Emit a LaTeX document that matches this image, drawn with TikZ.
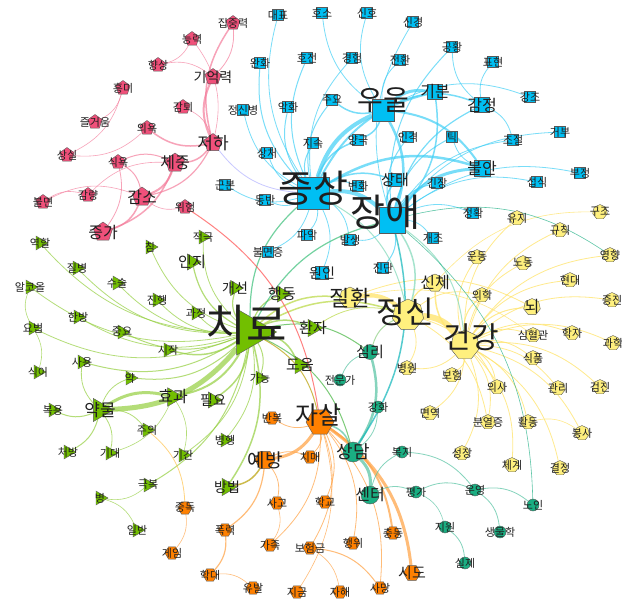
\documentclass[tikz,border=0pt]{standalone}
\usepackage{fontspec}
\setmainfont{Noto Sans CJK KR}
\usetikzlibrary{shapes.geometric}
\definecolor{kpink}{HTML}{F0507A}
\definecolor{kblue}{HTML}{00BFF3}
\definecolor{kgreen}{HTML}{72BF00}
\definecolor{korange}{HTML}{FF8000}
\definecolor{kteal}{HTML}{1AAE82}
\definecolor{kyellow}{HTML}{FFF07E}
\pgfdeclarelayer{bg}
\pgfdeclarelayer{fg}
\pgfsetlayers{bg,main,fg}
\newcommand{\nlab}[3][11]{\begin{pgfonlayer}{fg}\node[font=\fontsize{#1}{#1}\selectfont, text=black!88] at (#2) {#3};\end{pgfonlayer}}

\begin{document}
\begin{tikzpicture}[x=1pt, y=-1pt,
  every node/.style={inner sep=0pt, outer sep=0pt},
  nd/.style={draw=black!65, line width=0.4pt},
  pk/.style={nd, regular polygon, regular polygon sides=5, fill=kpink, minimum size=#1}, pk/.default=15pt,
  bl/.style={nd, rectangle, fill=kblue, minimum size=#1}, bl/.default=11pt,
  gr/.style={nd, isosceles triangle, isosceles triangle apex angle=60, fill=kgreen, minimum height=#1, minimum width=#1}, gr/.default=12pt,
  or/.style={nd, regular polygon, regular polygon sides=6, fill=korange, minimum size=#1}, or/.default=14pt,
  tl/.style={nd, circle, fill=kteal, minimum size=#1}, tl/.default=12pt,
  yl/.style={nd, regular polygon, regular polygon sides=7, fill=kyellow, minimum size=#1}, yl/.default=15pt,
  ed/.style={opacity=0.7},
  epk/.style={ed, draw=kpink!75},
  ebl/.style={ed, draw=kblue!75},
  egr/.style={ed, draw=kgreen!75},
  eor/.style={ed, draw=korange!75},
  etl/.style={ed, draw=kteal!75},
  eyl/.style={ed, draw=kyellow!90!orange, opacity=0.8}]
  \useasboundingbox (0,0) rectangle (622,602);
  \begin{pgfonlayer}{bg}
    \fill[white] (0,0) rectangle (622,602);
  \end{pgfonlayer}

  % pink cluster
  \foreach \nm/\x/\y in {집중력/233/23, 능력/192/39, 향상/158/65, 흥미/123/88, 감퇴/183/107, 즐거움/95/122, 의욕/147/128, 상실/67/155, 식욕/118/162, 감량/88/195, 불면/43/202, 위험/185/207}
    {\node[pk] (\nm) at (\x,\y) {}; \nlab{\nm}{\nm}}
  \foreach \nm/\x/\y/\sz/\fs in {기억력/213/77/17/14, 저하/213/143/19/17, 체중/175/163/20/16, 감소/142/197/20/16, 증가/103/232/20/16}
    {\node[pk=\sz pt] (\nm) at (\x,\y) {}; \nlab[\fs]{\nm}{\nm}}

  % blue cluster
  \foreach \nm/\x/\y in {대표/278/15, 호소/322/13, 신호/367/13, 신경/413/22, 공황/452/47, 표현/493/62, 완화/260/63, 호전/307/58, 경험/352/58, 전환/400/60, 강조/530/97, 정신병/243/110, 악화/288/107, 주요/332/100, 지속/313/143, 양극/358/140, 인격/408/137, 틱/452/137, 조절/513/140, 거부/560/132, 상처/267/153, 섭식/537/182, 부정/580/173, 근본/225/185, 변화/358/186, 긴장/437/183, 동반/265/200, 정확/473/213, 개조/433/238, 파악/307/235, 발생/350/240, 불면증/268/252, 진단/383/268}
    {\node[bl] (\nm) at (\x,\y) {}; \nlab{\nm}{\nm}}
  \foreach \nm/\x/\y/\sz/\fs in {기분/435/92/15/16, 감정/482/105/15/16, 불안/482/168/16/16, 상태/395/180/13/15, 원인/322/273/13/14}
    {\node[bl=\sz pt] (\nm) at (\x,\y) {}; \nlab[\fs]{\nm}{\nm}}
  \node[bl=22pt] (우울) at (383,110) {};
  \node[bl=32pt] (증상) at (313,193) {};
  \node[bl=26pt] (장애) at (392,220) {};
  \nlab[28]{383,100}{우울}
  \nlab[38]{313,188}{증상}
  \nlab[38]{385,212}{장애}

  % green cluster
  \foreach \nm/\x/\y in {역할/40/243, 침/150/247, 적극/203/237, 질병/77/268, 알코올/30/287, 수술/117/283, 진행/157/300, 과정/196/313, 한방/78/317, 요법/33/328, 중요/122/332, 시작/168/350, 사용/82/362, 식이/38/372, 약/130/378, 가능/260/378, 복용/53/410, 주의/147/430, 병행/225/440, 처방/68/452, 기대/110/453, 기간/183/455, 극복/148/485, 병/100/498, 일반/137/530}
    {\node[gr] (\nm) at (\x,\y) {}; \nlab{\nm}{\nm}}
  \foreach \nm/\x/\y/\sz/\fs in {인지/192/262/14/15, 개선/235/288/13/14, 행동/282/294/14/15, 환자/313/328/15/15, 도움/300/365/15/15, 효과/173/397/16/16, 필요/213/400/14/14, 방법/227/487/15/14, 약물/100/410/20/17}
    {\node[gr=\sz pt] (\nm) at (\x,\y) {}; \nlab[\fs]{\nm}{\nm}}
  \node[gr=40pt] (치료) at (250,332) {};
  \nlab[44]{246,325}{치료}

  % orange cluster
  \foreach \nm/\x/\y in {반복/272/418, 치매/310/457, 사고/277/503, 학교/325/502, 폭력/225/530, 충동/393/533, 가족/270/545, 보험금/310/548, 행위/353/543, 중독/185/508, 게임/172/553, 학대/210/575, 유발/253/588, 지금/297/592, 자해/340/592, 사망/380/588}
    {\node[or] (\nm) at (\x,\y) {}; \nlab{\nm}{\nm}}
  \foreach \nm/\x/\y/\sz/\fs in {시도/412/573/17/15, 예방/265/460/20/19}
    {\node[or=\sz pt] (\nm) at (\x,\y) {}; \nlab[\fs]{\nm}{\nm}}
  \node[or=28pt] (자살) at (320,422) {};
  \nlab[25]{318,415}{자살}

  % teal cluster
  \foreach \nm/\x/\y in {강화/378/407, 복지/402/452, 평가/416/492, 운영/475/490, 노인/533/505, 지원/445/527, 생물학/500/532, 실제/465/563, 전문가/340/380}
    {\node[tl] (\nm) at (\x,\y) {}; \nlab{\nm}{\nm}}
  \foreach \nm/\x/\y/\sz/\fs in {심리/370/352/15/15, 상담/353/452/20/18, 센터/370/495/18/16}
    {\node[tl=\sz pt] (\nm) at (\x,\y) {}; \nlab[\fs]{\nm}{\nm}}

  % yellow cluster
  \foreach \nm/\x/\y in {구조/600/212, 유지/517/218, 규칙/560/230, 영향/610/255, 운동/477/257, 노동/523/263, 현대/570/280, 의학/482/295, 증진/612/300, 심혈관/533/335, 학자/572/333, 과학/613/343, 식품/533/358, 병원/407/368, 보험/452/375, 의사/497/387, 관리/558/388, 검진/600/387, 면역/430/413, 분열증/488/422, 활동/528/422, 봉사/582/433, 성장/462/453, 체계/512/465, 결정/560/468}
    {\node[yl] (\nm) at (\x,\y) {}; \nlab{\nm}{\nm}}
  \foreach \nm/\x/\y/\sz/\fs in {신체/435/283/18/16, 뇌/532/307/17/16, 질환/350/298/22/22}
    {\node[yl=\sz pt] (\nm) at (\x,\y) {}; \nlab[\fs]{\nm}{\nm}}
  \node[yl=32pt] (정신) at (408,315) {};
  \node[yl=30pt] (건강) at (465,345) {};
  \nlab[31]{405,312}{정신}
  \nlab[30]{471,337}{건강}

  % edges
  \begin{pgfonlayer}{bg}
  \foreach \a/\b/\w in {저하/집중력/1.5, 저하/기억력/2, 집중력/기억력/0.8, 저하/의욕/1.5, 저하/체중/1.5, 저하/감소/1.2, 능력/저하/0.6, 능력/향상/0.6, 향상/기억력/0.6, 감퇴/저하/0.6, 흥미/즐거움/0.6, 흥미/상실/0.6, 의욕/상실/0.6, 식욕/체중/1, 식욕/감소/1, 식욕/증가/0.8, 체중/감소/2, 체중/증가/1.5, 감소/증가/1.5, 감량/체중/0.6, 불면/감량/0.6, 불면/감소/0.6, 위험/감소/0.6}
    \draw[epk, line width=\w pt] (\a) to[bend left=24] (\b);
  \foreach \a/\b/\w in {증상/우울/4, 증상/장애/4, 증상/대표/0.8, 증상/완화/1, 증상/호전/1, 증상/정신병/0.8, 증상/악화/1, 증상/주요/1, 증상/지속/1, 증상/상처/0.8, 증상/근본/0.8, 증상/동반/0.8, 증상/양극/1.5, 증상/변화/1, 증상/상태/1.5, 증상/경험/0.8, 증상/기분/2, 증상/불안/2.5, 증상/파악/0.8, 증상/발생/0.8, 증상/불면증/0.8, 증상/원인/0.8, 우울/호소/0.8, 우울/신호/0.8, 우울/전환/0.8, 우울/기분/3, 우울/감정/1.5, 우울/주요/1.5, 우울/양극/1.5, 우울/장애/2.5, 우울/불안/2, 우울/강조/0.8, 장애/신경/0.8, 장애/공황/1, 장애/인격/1, 장애/틱/1, 장애/불안/3, 장애/상태/1.5, 장애/감정/1.2, 장애/조절/0.8, 장애/거부/0.8, 장애/섭식/0.8, 장애/부정/0.8, 장애/긴장/1, 장애/정확/0.8, 장애/개조/0.8, 장애/진단/1, 장애/발생/0.8, 감정/표현/0.8, 감정/공황/0.8, 감정/조절/0.8, 불안/틱/0.8, 기분/장애/1.5}
    \draw[ebl, line width=\w pt] (\a) to[bend left=24] (\b);
  \foreach \a/\b/\w in {치료/약물/5, 약물/효과/3, 치료/효과/2, 치료/역할/0.8, 치료/침/0.8, 치료/적극/0.8, 치료/질병/0.8, 치료/인지/1.2, 치료/알코올/0.8, 치료/수술/0.8, 치료/진행/0.8, 치료/과정/0.8, 치료/개선/1.2, 치료/행동/1.2, 치료/한방/0.8, 치료/요법/0.8, 치료/중요/1, 치료/환자/1.5, 치료/시작/1.5, 치료/사용/1, 치료/약/1, 치료/도움/1.5, 치료/가능/1, 치료/필요/1.5, 치료/병행/0.8, 치료/방법/1.5, 치료/기간/0.8, 치료/극복/1, 약물/복용/1, 약물/처방/1, 약물/사용/0.8, 약물/약/0.8, 약물/주의/0.8, 약물/기대/0.8, 요법/식이/0.6, 극복/병/0.6, 병/일반/0.6, 효과/기대/0.6, 효과/기간/0.6, 요법/알코올/0.6}
    \draw[egr, line width=\w pt] (\a) to[bend left=24] (\b);
  \foreach \a/\b/\w in {자살/예방/3, 자살/시도/3, 자살/충동/2, 자살/반복/0.8, 자살/치매/0.8, 자살/학교/0.8, 자살/가족/0.8, 자살/보험금/0.8, 자살/행위/0.8, 자살/사망/0.8, 자살/지금/0.6, 예방/폭력/1.2, 예방/치매/0.8, 예방/사고/0.8, 폭력/학대/1.2, 학대/유발/0.6, 보험금/사망/1, 중독/게임/0.6, 보험금/자해/0.6, 사고/가족/0.6}
    \draw[eor, line width=\w pt] (\a) to[bend left=24] (\b);
  \foreach \a/\b/\w in {자살/상담/1.5, 상담/센터/3, 심리/상담/2.5, 전문가/심리/0.8, 센터/복지/0.8, 센터/평가/0.8, 복지/운영/0.8, 평가/운영/0.8, 운영/노인/0.8, 운영/생물학/0.8, 지원/실제/0.8, 평가/지원/0.6, 강화/상담/0.8}
    \draw[etl, line width=\w pt] (\a) to[bend left=24] (\b);
  \foreach \a/\b/\w in {정신/건강/6, 질환/정신/4, 건강/신체/1.5, 정신/신체/1.2, 건강/유지/0.8, 건강/규칙/0.8, 건강/영향/0.8, 건강/운동/0.8, 건강/노동/0.8, 건강/현대/0.8, 건강/의학/1, 건강/뇌/1, 건강/증진/0.8, 건강/심혈관/0.8, 건강/학자/0.8, 건강/과학/0.8, 건강/식품/0.8, 건강/병원/0.8, 건강/보험/0.8, 건강/의사/0.8, 건강/관리/0.8, 건강/검진/0.8, 건강/면역/0.8, 건강/분열증/0.8, 건강/활동/0.8, 건강/봉사/0.8, 건강/성장/0.8, 건강/체계/0.8, 건강/결정/0.8, 정신/의학/0.8, 정신/분열증/0.8, 정신/병원/0.8, 정신/의사/0.8, 활동/봉사/0.6, 질환/심혈관/0.6, 질환/뇌/0.8, 신체/구조/0.6}
    \draw[eyl, line width=\w pt] (\a) to[bend left=24] (\b);
  % links between clusters
  \foreach \a/\b/\w/\c in {치료/질환/1.5/kgreen!50!kyellow, 치료/정신/1.5/kgreen!50!kyellow, 치료/증상/1.2/kgreen!50!kblue, 치료/장애/1.2/kgreen!50!kblue, 치료/상담/1/kgreen!50!kteal, 치료/자살/1/kgreen!50!korange, 치료/심리/1/kgreen!50!kteal, 환자/정신/0.8/kgreen!50!kyellow, 위험/자살/1/red!70, 증상/저하/0.8/blue!30, 장애/상담/1.5/kblue!50!kteal, 장애/정신/1.5/kblue!50!kyellow, 증상/정신/1/kblue!50!kyellow, 장애/건강/1/kblue!50!kyellow, 예방/방법/1.5/korange!50!kgreen, 주의/중독/0.8/kyellow!60!korange, 심리/정신/1/kteal!50!kyellow, 장애/영향/0.6/kteal, 장애/노인/0.6/kteal}
    \draw[ed, draw=\c, line width=\w pt] (\a) to[bend left=24] (\b);
  \end{pgfonlayer}
\end{tikzpicture}
\end{document}
